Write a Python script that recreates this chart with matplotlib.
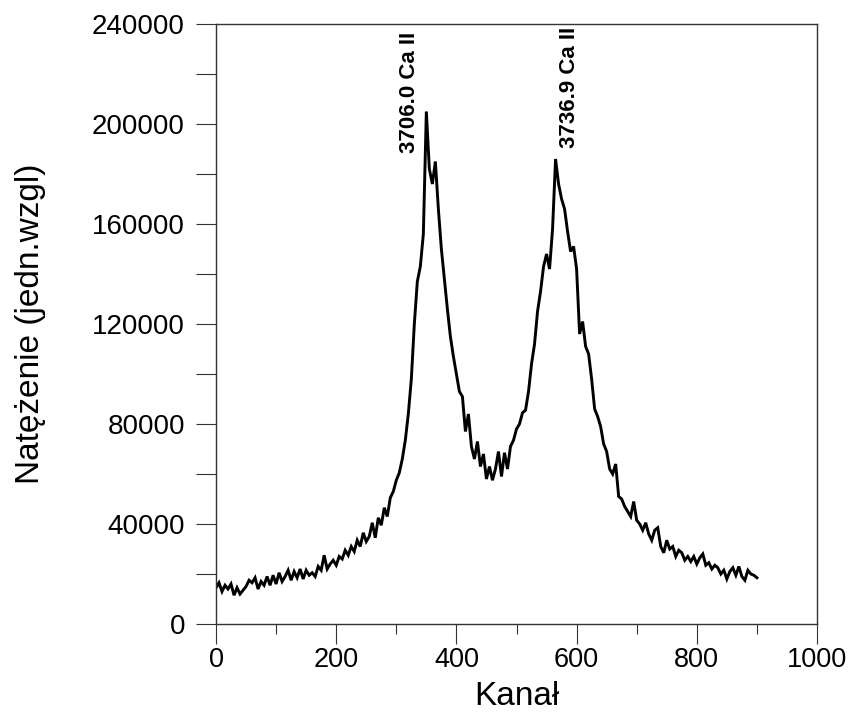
import matplotlib
matplotlib.use("Agg")
import matplotlib.pyplot as plt
from matplotlib.ticker import MultipleLocator

plt.rcParams['font.family'] = ['Liberation Sans', 'DejaVu Sans']

channels = list(range(0, 905, 5))
intensity = [
    14500, 16500, 13000, 15500, 14000, 16000, 11500, 14500, 12000, 13500,
    15000, 17500, 16500, 18500, 14000, 17000, 15500, 19000, 15500, 19500,
    16000, 20500, 17000, 19000, 21500, 17500, 21000, 18500, 22000, 18000,
    21500, 19500, 20500, 19000, 23000, 21500, 27500, 22000, 24000, 25500,
    23500, 27000, 26000, 29500, 27500, 31000, 29000, 33500, 31000, 36500,
    33000, 35000, 40500, 34500, 42500, 39500, 46500, 43000, 50500, 53000,
    57500, 60500, 66000, 73500, 84000, 98000, 120000, 137000, 143000, 156000,
    205000, 182000, 176000, 185000, 166000, 150000, 138000, 126000, 115000, 107000,
    100000, 93000, 91000, 77000, 84000, 71000, 66000, 73000, 63000, 68000,
    58000, 63000, 57500, 62000, 69000, 59000, 68500, 62000, 71000, 73500,
    78000, 80000, 84500, 85500, 93000, 104000, 112000, 125000, 133000, 143000,
    148000, 142000, 158000, 186000, 176000, 170000, 166000, 157000, 149000, 151000,
    142000, 116000, 121000, 111000, 108000, 98000, 86000, 83000, 79000, 72000,
    69000, 62000, 60000, 64000, 51000, 50000, 47000, 45000, 43000, 49000,
    41500, 40000, 37500, 40500, 36000, 33500, 37500, 38500, 31000, 28500,
    33500, 30000, 31000, 27000, 29500, 28500, 25500, 27000, 25000, 27000,
    24000, 26500, 28000, 23500, 24500, 22000, 23500, 22500, 20000, 21500,
    18000, 21000, 22500, 19500, 23000, 19000, 17500, 21500, 20000, 19500,
    18500,
]

peak_labels = ['3706.0 Ca II', '3736.9 Ca II']
peak_label_x = [322, 588]
peak_label_y = [188500, 190500]

W, H = 851, 715
fig = plt.figure(figsize=(W / 100, H / 100), dpi=100)
ax = fig.add_axes([216 / W, 1 - 624 / H, 601 / W, 600 / H])

ax.plot(channels, intensity, color='black', lw=2.1, solid_joinstyle='miter')

ax.set_xlim(0, 1000)
ax.set_ylim(0, 240000)
ax.xaxis.set_major_locator(MultipleLocator(200))
ax.xaxis.set_minor_locator(MultipleLocator(100))
ax.yaxis.set_major_locator(MultipleLocator(40000))
ax.yaxis.set_minor_locator(MultipleLocator(20000))

spine_col = '#333333'
for s in ax.spines.values():
    s.set_color(spine_col)
    s.set_linewidth(1.0)

ax.tick_params(axis='x', which='major', direction='out', length=14.4, width=0.8,
               color=spine_col, labelsize=19.5, pad=2)
ax.tick_params(axis='x', which='minor', direction='out', length=7.2, width=0.8,
               color=spine_col)
ax.tick_params(axis='y', which='both', direction='out', length=14.4, width=0.8,
               color=spine_col, labelsize=20, pad=8)

ax.set_xlabel('Kanał', fontsize=24, labelpad=6)
ax.set_ylabel('Natężenie (jedn.wzgl)', fontsize=24, labelpad=33)

for lbl, x, y in zip(peak_labels, peak_label_x, peak_label_y):
    ax.text(x, y, lbl, rotation=90, ha='center', va='bottom',
            fontsize=16, fontweight='bold')

fig.savefig('out.png', dpi=100)
